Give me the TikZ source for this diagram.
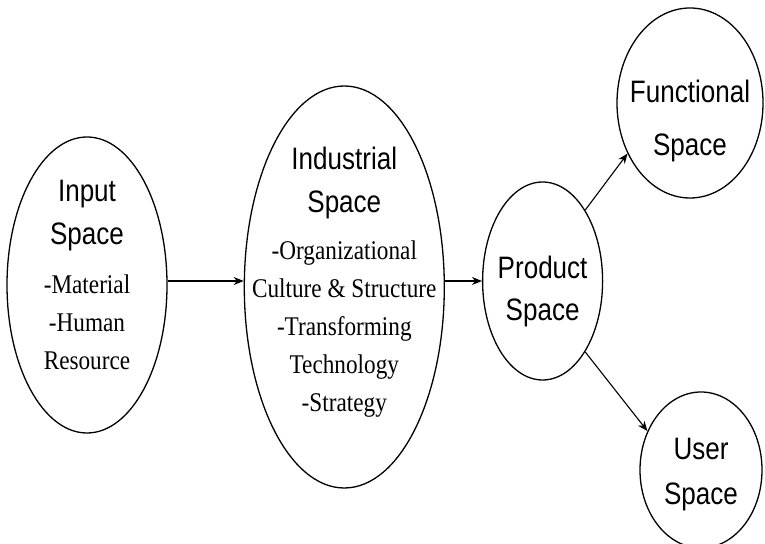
\documentclass[tikz,border=0pt]{standalone}
\usepackage{fontspec}
\setmainfont{Liberation Serif}
\setsansfont{Liberation Sans}
\newfontfamily\headsf[FakeStretch=0.84]{Liberation Sans}
\newfontfamily\itemrm[FakeStretch=0.86]{Liberation Serif}
\usetikzlibrary{arrows.meta, positioning, shapes.geometric}

\newcommand{\headfont}{\headsf\fontsize{31pt}{38pt}\selectfont}
\newcommand{\itemfont}{\itemrm\fontsize{27pt}{38pt}\selectfont}

\begin{document}
\begin{tikzpicture}[
            oval/.style 2 args={ellipse, draw, line width=1.3pt, inner sep=0pt, minimum width=#1, minimum height=#2},
            txt/.style={align=center, inner sep=0pt, font=\headfont},
            arr/.style={-{Stealth[length=10pt,width=8pt]}, line width=1.1pt}
        ]
        \useasboundingbox (0,0) rectangle (765pt,543pt);

        \node[oval={160pt}{296pt}] (input) at (87pt,258pt) {};
        \node[oval={200pt}{402pt}, right=76pt of input, yshift=-2pt] (industrial) {};
        \node[oval={120pt}{198pt}, right=37pt of industrial, yshift=6pt] (product) {};
        \node[oval={146pt}{190pt}] (functional) at (690pt,440pt) {};
        \node[oval={122pt}{156pt}] (user) at (701pt,73pt) {};

        \node[txt] (inputtxt) at ([yshift=10pt]input.center) {Input\\[5pt]Space\\[11pt]\itemfont -Material\\\itemfont -Human\\\itemfont Resource};
        \node[txt] (industrialtxt) at ([yshift=4.5pt]industrial.center) {Industrial\\[5pt]Space\\[9pt]\itemfont -Organizational\\\itemfont Culture \& Structure\\\itemfont -Transforming\\\itemfont Technology\\\itemfont -Strategy};
        \node[txt] (producttxt) at ([yshift=-10pt]product.center) {Product\\[4pt]Space};
        \node[txt] (functionaltxt) at ([yshift=-17.5pt]functional.center) {Functional\\[15pt]Space};
        \node[txt] (usertxt) at ([yshift=-4.5pt]user.center) {User\\[7pt]Space};

        \draw[arr] (input.east |- product.west) -- (industrial.west |- product.west);
        \draw[arr] (industrial.east |- product.west) -- (product.west);
        \draw[arr] (product.59) -- (functional.219);
        \draw[arr] (product.-59) -- (user.144);

    \end{tikzpicture}
\end{document}
